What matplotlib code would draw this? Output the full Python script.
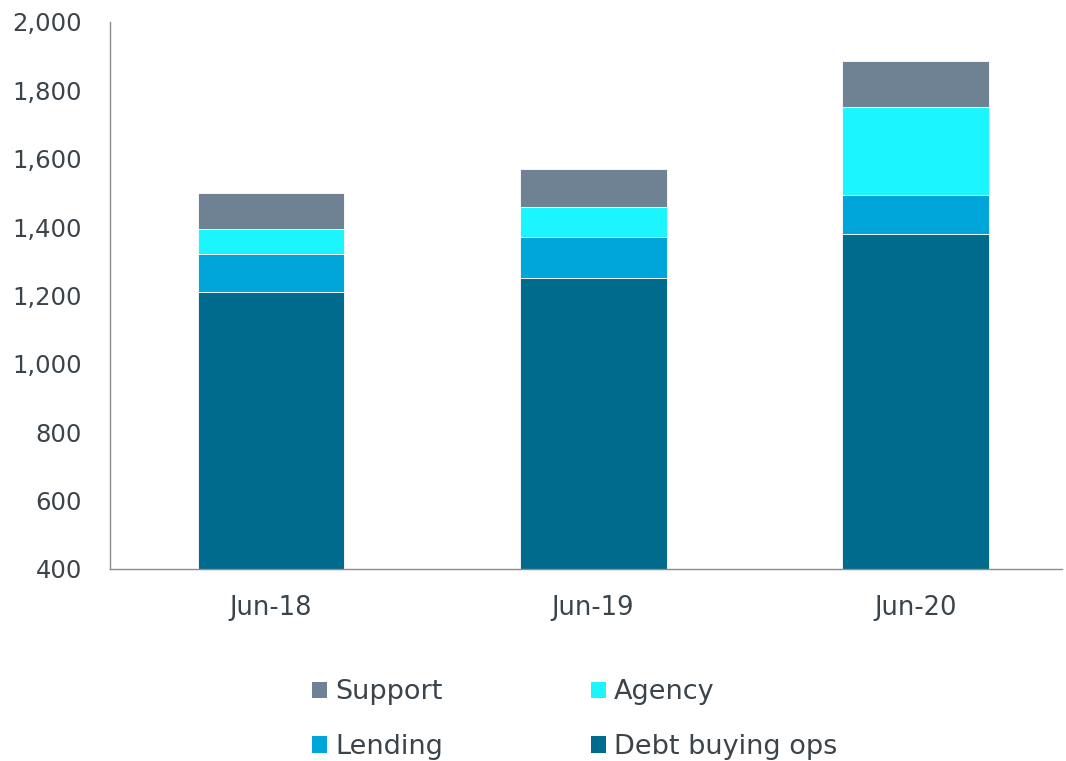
import matplotlib
matplotlib.use("Agg")
import matplotlib.pyplot as plt
from matplotlib.patches import Patch
from matplotlib.ticker import FuncFormatter

categories = ["Jun-18", "Jun-19", "Jun-20"]
debt_buying_ops = [1210, 1250, 1380]
lending = [110, 120, 115]
agency = [75, 90, 255]
support = [105, 110, 135]
yticks = [400, 600, 800, 1000, 1200, 1400, 1600, 1800, 2000]

colors = {
    "Debt buying ops": "#006B8C",
    "Lending": "#00A5D9",
    "Agency": "#1AF5FF",
    "Support": "#6E8293",
}
text_color = "#3B444B"

plt.rcParams["font.family"] = ["DejaVu Sans"]

fig = plt.figure(figsize=(10.66, 7.61), dpi=100)
ax = fig.add_axes([110 / 1066, (761 - 569) / 761, 952 / 1066, 547 / 761])

x = list(range(len(categories)))
width = 0.456
series = [("Debt buying ops", debt_buying_ops), ("Lending", lending),
          ("Agency", agency), ("Support", support)]
bottom = [0] * len(categories)
for name, vals in series:
    ax.bar(x, vals, width, bottom=bottom, color=colors[name], edgecolor="white",
           linewidth=0.6, zorder=2)
    bottom = [b + v for b, v in zip(bottom, vals)]

ax.set_ylim(400, 2000)
ax.set_xlim(-0.5, 2.456)
ax.set_yticks(yticks)
ax.yaxis.set_major_formatter(FuncFormatter(lambda v, p: f"{int(v):,}"))
ax.set_xticks(x)
ax.set_xticklabels(categories)
ax.tick_params(axis="both", length=0, colors=text_color)
ax.tick_params(axis="y", labelsize=17.5, pad=20)
ax.tick_params(axis="x", labelsize=18.5, pad=19)
for s in ["top", "right"]:
    ax.spines[s].set_visible(False)
for s in ["left", "bottom"]:
    ax.spines[s].set_color("#8C8C8C")
    ax.spines[s].set_linewidth(1.0)

order = ["Support", "Lending", "Agency", "Debt buying ops"]
handles = [Patch(facecolor=colors[n]) for n in order]
leg = fig.legend(handles, order, ncol=2, loc="upper left",
                 bbox_to_anchor=(288 / 1066, 1 - 655 / 761),
                 frameon=False, fontsize=19.5, handlelength=0.55, handleheight=0.55,
                 handletextpad=0.3, columnspacing=5.45, labelspacing=1.06)
for t in leg.get_texts():
    t.set_color(text_color)

fig.savefig("out.png", dpi=100)
